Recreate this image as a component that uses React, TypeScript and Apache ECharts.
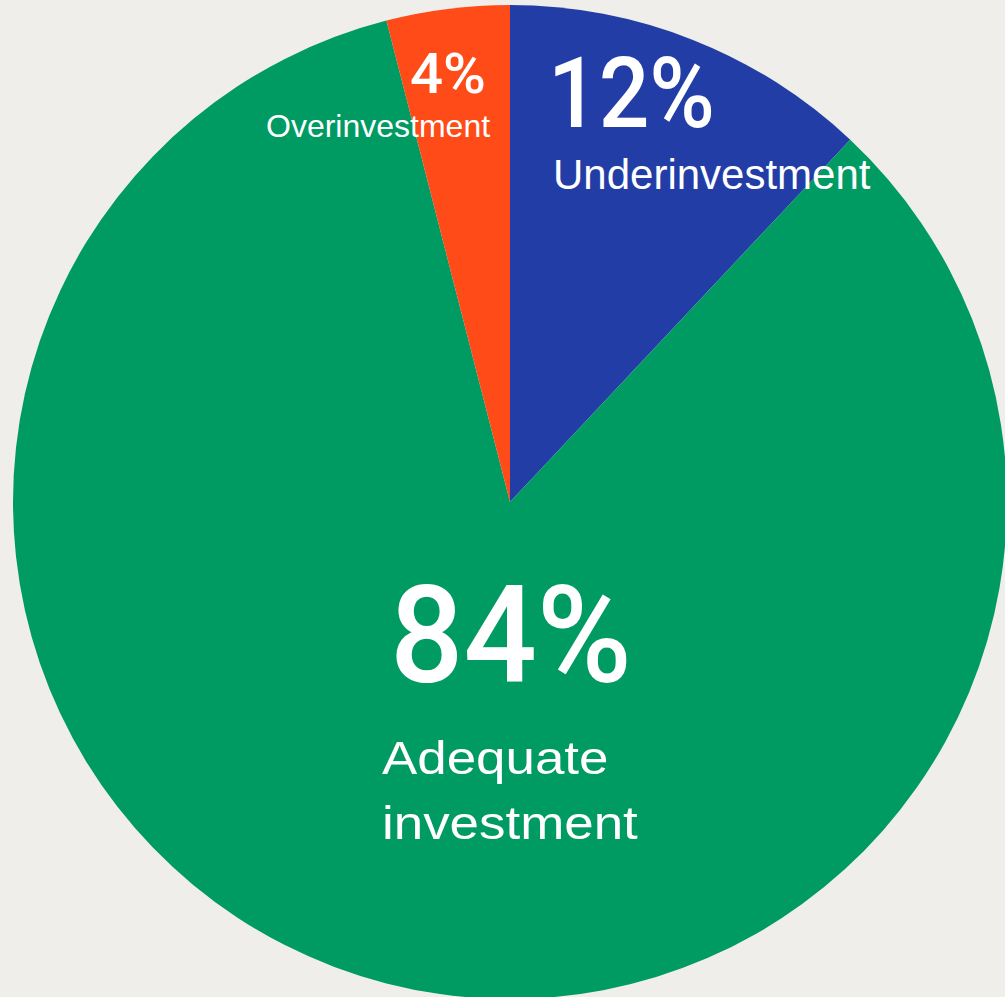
import React, { useEffect, useRef } from "react";
import * as echarts from "echarts";

const categories = ["Underinvestment", "Adequate investment", "Overinvestment"];
const values = [12, 84, 4];
const colors = ["#233da6", "#009a63", "#ff4b17"];
const bg = "#efeeea";

const FONT = "'Liberation Sans', Arial, Helvetica, sans-serif";
const PFONT = "Roboto, 'Liberation Sans', sans-serif";

export default function App() {
  const ref = useRef<HTMLDivElement>(null);
  useEffect(() => {
    if (!ref.current) return;
    const chart = echarts.init(ref.current, undefined, { renderer: "svg" });
    const pct = (i: number) => `${values[i]}%`;
    const txt = (
      text: string,
      x: number,
      y: number,
      size: number,
      weight: string,
      scaleX: number,
      family = FONT
    ) => ({
      type: "text",
      x,
      y,
      z: 100,
      scaleX,
      silent: true,
      style: {
        text,
        fill: "#ffffff",
        font: `${weight} ${size}px ${family}`,
        align: "left",
        verticalAlign: "bottom",
      },
    });
    chart.setOption({
      animation: false,
      backgroundColor: bg,
      series: [
        {
          type: "pie",
          center: [510, 502],
          radius: [0, 497],
          startAngle: 90,
          clockwise: true,
          label: { show: false },
          labelLine: { show: false },
          silent: true,
          z: 1,
          itemStyle: { borderWidth: 0 },
          data: categories.map((c, i) => ({
            name: c,
            value: values[i],
            itemStyle: { color: colors[i] },
          })),
        },
      ],
      graphic: {
        z: 100,
        elements: [
          txt(pct(0), 548, 143, 98, "500", 0.91, PFONT),
          txt(categories[0], 553, 195, 42, "normal", 1),
          txt(pct(2), 410, 102, 56, "500", 1.04, PFONT),
          txt(categories[2], 266, 142, 32, "normal", 1),
          txt(pct(1), 390, 703, 136, "500", 0.95, PFONT),
          txt("Adequate", 382, 781, 46, "normal", 1.15),
          txt("investment", 382, 846, 46, "normal", 1.15),
        ],
      },
    });
    return () => chart.dispose();
  }, []);
  return (
    <div
      ref={ref}
      style={{ position: "fixed", left: 0, top: 0, width: 1005, height: 997 }}
    />
  );
}
